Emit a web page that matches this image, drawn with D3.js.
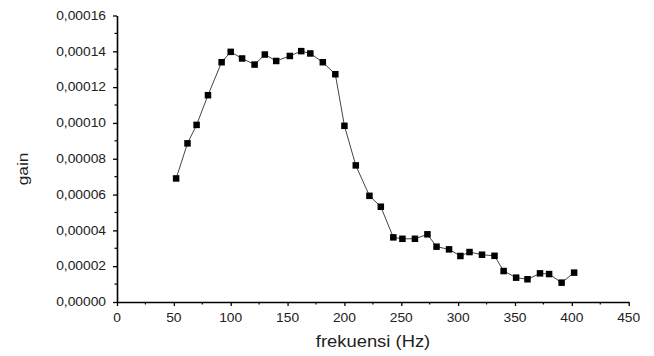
<!DOCTYPE html>
<html>
<head>
<meta charset="utf-8">
<script src="https://cdn.jsdelivr.net/npm/d3@7"></script>
<style>
  body { margin: 0; background: #fff; }
  text { font-family: "Liberation Sans", Arial, sans-serif; fill: #222; }
</style>
</head>
<body>
<div id="chart"></div>
<script>
// values
var freq = [52, 62, 70, 80, 92, 100, 110, 121, 130, 140, 152, 162, 170, 181, 192, 200, 210, 222,
            232, 243, 251, 262, 273, 281, 292, 302, 310, 321, 332, 340, 351, 361, 372, 380, 391, 402];
var gain = [0.0000690, 0.0000886, 0.0000989, 0.0001155, 0.0001339, 0.0001397, 0.0001360, 0.0001326,
            0.0001382, 0.0001346, 0.0001374, 0.0001401, 0.0001388, 0.0001339, 0.0001272, 0.0000984,
            0.0000763, 0.0000593, 0.0000532, 0.0000361, 0.0000353, 0.0000353, 0.0000378, 0.0000309,
            0.0000294, 0.0000257, 0.0000279, 0.0000264, 0.0000258, 0.0000173, 0.0000136, 0.0000127,
            0.0000160, 0.0000156, 0.0000108, 0.0000164];
var xTicks = [0, 50, 100, 150, 200, 250, 300, 350, 400, 450];
var yTicks = [0, 0.00002, 0.00004, 0.00006, 0.00008, 0.00010, 0.00012, 0.00014, 0.00016];

var width = 654, height = 356;
var stretch = 1.15; // text in the picture is a bit wide

var svg = d3.select("#chart").append("svg")
    .attr("width", width)
    .attr("height", height);

var x = d3.scaleLinear().domain([0, 450]).range([117, 628.7]);
var y = d3.scaleLinear().domain([0, 0.00016]).range([302, 15.5]);

var fmt = d3.formatLocale({decimal: ",", thousands: ".", grouping: [3], currency: ["", ""]}).format(".5f");

// minor ticks halfway between majors
var xMinor = d3.range(25, 450, 50);
var yMinor = d3.range(0.00001, 0.00016, 0.00002);

// axes (lines + ticks), labels drawn separately
svg.append("g")
    .attr("transform", "translate(0," + y(0) + ")")
    .call(d3.axisBottom(x).tickValues(xTicks).tickSize(4).tickSizeOuter(0).tickFormat(""))
    .call(function(g) { g.select(".domain").attr("stroke-width", 1.6); })
    .call(function(g) { g.selectAll(".tick line").attr("stroke-width", 1.3); });

svg.append("g")
    .attr("transform", "translate(0," + y(0) + ")")
    .selectAll("line")
    .data(xMinor)
    .enter().append("line")
    .attr("x1", function(d) { return x(d); })
    .attr("x2", function(d) { return x(d); })
    .attr("y1", 0).attr("y2", 2.5)
    .attr("stroke", "#000").attr("stroke-width", 1.2);

svg.append("g")
    .attr("transform", "translate(" + x(0) + ",0)")
    .call(d3.axisLeft(y).tickValues(yTicks).tickSize(4).tickSizeOuter(0).tickFormat(""))
    .call(function(g) { g.select(".domain").attr("stroke-width", 1.6); })
    .call(function(g) { g.selectAll(".tick line").attr("stroke-width", 1.3); });

svg.append("g")
    .attr("transform", "translate(" + x(0) + ",0)")
    .selectAll("line")
    .data(yMinor)
    .enter().append("line")
    .attr("y1", function(d) { return y(d); })
    .attr("y2", function(d) { return y(d); })
    .attr("x1", 0).attr("x2", -2.5)
    .attr("stroke", "#000").attr("stroke-width", 1.2);

// tick labels
svg.append("g").selectAll("text")
    .data(xTicks)
    .enter().append("text")
    .attr("transform", function(d) { return "translate(" + x(d) + ",322) scale(" + stretch + ",1)"; })
    .attr("text-anchor", "middle")
    .style("font-size", "12px")
    .text(function(d) { return d; });

svg.append("g").selectAll("text")
    .data(yTicks)
    .enter().append("text")
    .attr("transform", function(d) { return "translate(106," + (y(d) + 4.3) + ") scale(" + stretch + ",1)"; })
    .attr("text-anchor", "end")
    .style("font-size", "12px")
    .text(function(d) { return fmt(d); });

// axis titles
svg.append("text")
    .attr("transform", "translate(373,347) scale(" + stretch + ",1)")
    .attr("text-anchor", "middle")
    .style("font-size", "16px")
    .text("frekuensi (Hz)");

svg.append("text")
    .attr("transform", "translate(28,169) rotate(-90) scale(" + stretch + ",1)")
    .attr("text-anchor", "middle")
    .style("font-size", "15px")
    .text("gain");

// data line + square markers
var pts = freq.map(function(f, i) { return {f: f, g: gain[i]}; });

svg.append("path")
    .datum(pts)
    .attr("fill", "none")
    .attr("stroke", "#444")
    .attr("stroke-width", 1)
    .attr("d", d3.line().x(function(d) { return x(d.f); }).y(function(d) { return y(d.g); }));

var s = 6.5;
svg.append("g").selectAll("rect")
    .data(pts)
    .enter().append("rect")
    .attr("x", function(d) { return x(d.f) - s / 2; })
    .attr("y", function(d) { return y(d.g) - s / 2; })
    .attr("width", s)
    .attr("height", s)
    .attr("fill", "#000");
</script>
</body>
</html>
